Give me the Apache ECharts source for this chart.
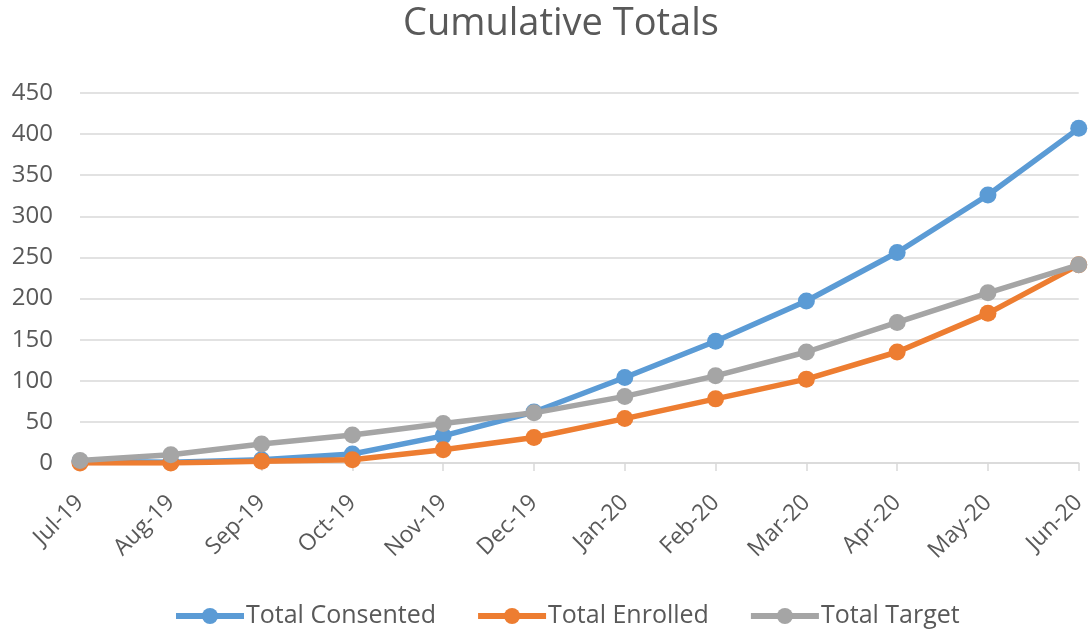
<!DOCTYPE html>
<html>
<head>
<meta charset="utf-8">
<script src="https://cdn.jsdelivr.net/npm/echarts@6/dist/echarts.min.js"></script>
<style>html,body{margin:0;padding:0;background:#fff}#c{width:1089px;height:631px}</style>
</head>
<body>
<div id="c"></div>
<script>
const categories = ['Jul-19','Aug-19','Sep-19','Oct-19','Nov-19','Dec-19','Jan-20','Feb-20','Mar-20','Apr-20','May-20','Jun-20'];
const totalConsented = [2, 1, 4, 11, 33, 62, 104, 148, 197, 256, 326, 407];
const totalEnrolled = [0, 0, 2, 4, 16, 31, 54, 78, 102, 135, 182, 241];
const totalTarget = [3, 10, 23, 34, 48, 61, 81, 106, 135, 171, 207, 241];
const yTicks = {min: 0, max: 450, interval: 50};

const font = '"Open Sans", sans-serif';
const mk = (name, data, color, z) => ({
  name, type: 'line', data, z,
  symbol: 'circle', symbolSize: 17,
  lineStyle: {width: 5.5, color},
  itemStyle: {color},
  emphasis: {disabled: true}
});
const chart = echarts.init(document.getElementById('c'));
chart.setOption({
  animation: false,
  title: {text: 'Cumulative Totals', left: 403, top: 5, padding: 0,
    textStyle: {fontFamily: font, fontSize: 38, fontWeight: 'normal', color: '#595959'}},
  legend: {top: 601, left: 173, itemWidth: 68, itemHeight: 20, itemGap: 39, padding: 0,
    lineStyle: {width: 6},
    textStyle: {fontFamily: font, fontSize: 25, lineHeight: 30, color: '#595959', padding: [0,0,0,-3]}},
  grid: {left: 80, right: 9, top: 93, bottom: 168},
  xAxis: {type: 'category', data: categories, boundaryGap: false,
    axisLine: {lineStyle: {color: '#D9D9D9', width: 1.5}},
    axisTick: {show: true, length: 8, lineStyle: {color: '#D9D9D9', width: 1.5}},
    axisLabel: {rotate: 45, margin: 36, fontFamily: font, fontSize: 23, color: '#595959', interval: 0}},
  yAxis: {type: 'value', min: yTicks.min, max: yTicks.max, interval: yTicks.interval,
    axisLine: {show: false}, axisTick: {show: false},
    splitLine: {lineStyle: {color: '#D9D9D9', width: 1.5}},
    axisLabel: {margin: 27, fontFamily: font, fontSize: 24, color: '#595959'}},
  series: [
    mk('Total Consented', totalConsented, '#5B9BD5', 3),
    mk('Total Enrolled', totalEnrolled, '#ED7D31', 4),
    mk('Total Target', totalTarget, '#A5A5A5', 5)
  ]
});
</script>
</body>
</html>
